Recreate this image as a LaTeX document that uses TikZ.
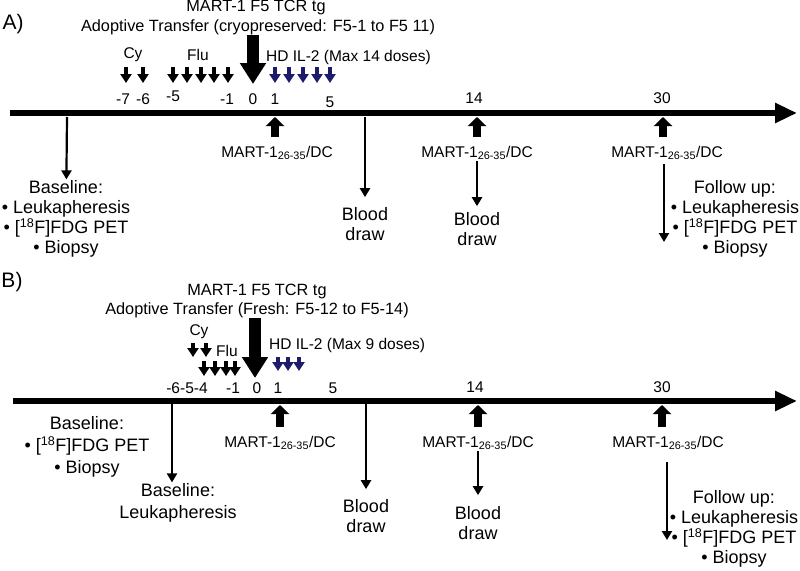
\documentclass[tikz,border=0pt]{standalone}
\usepackage{fontspec}
\setmainfont{Liberation Sans}
\usetikzlibrary{arrows.meta}
\definecolor{ildose}{HTML}{1C1C6B}

\begin{document}
\begin{tikzpicture}[x=1pt,y=-1pt,
	txt/.style={font=\fontsize{18}{20}\selectfont,align=center,inner sep=1pt},
	txtw/.style={font=\fontsize{18}{22}\selectfont,align=center,inner sep=1pt},
	sm/.style={font=\fontsize{15.5}{18}\selectfont,inner sep=1pt},
	ttl/.style={font=\fontsize{16.3}{19}\selectfont,inner sep=1pt},
	timeline/.style={line width=6pt,-{Triangle[length=22pt,width=19pt]}},
	bigarr/.style={line width=12pt,-{Triangle[length=21pt,width=25pt]}},
	dosearr/.style={line width=3.4pt,-{Triangle[length=9pt,width=11pt]}},
	ilarr/.style={dosearr,ildose},
	vacarr/.style={line width=8pt,-{Triangle[length=9pt,width=18pt]}},
	thinarr/.style={line width=2.2pt,-{Triangle[length=9pt,width=10pt]}}]
	\useasboundingbox (0,0) rectangle (800,570);

	% A) cryopreserved cells
	\node[font=\fontsize{21}{24}\selectfont] (lblA) at (13,24) {A)};
	\node[ttl] (trA1) at (256,8) {MART-1 F5 TCR tg};
	\node[ttl] (trA2) at (258,27) {Adoptive Transfer (cryopreserved: F5-1 to F5 11)};
	\node[sm] (cyA) at (133,55) {Cy};
	\node[sm] (fluA) at (198,55) {Flu};
	\node[sm,anchor=west] (ilA) at (265,57) {HD IL-2 (Max 14 doses)};
	\node[sm] (dA7) at (123,99) {-7};
	\node[sm] (dA6) at (143,99) {-6};
	\node[sm] (dA5) at (173,96) {-5};
	\node[sm] (dA1) at (227,99) {-1};
	\node[sm] (dA0) at (253,99) {0};
	\node[sm] (dAp1) at (275,99) {1};
	\node[sm] (dAp5) at (330,102) {5};
	\node[sm] (dA14) at (474,98) {14};
	\node[sm] (dA30) at (662,98) {30};
	\node[sm] (mA1) at (277,153) {MART-1\textsubscript{26-35}/DC};
	\node[sm] (mA2) at (477,153) {MART-1\textsubscript{26-35}/DC};
	\node[sm] (mA3) at (667,153) {MART-1\textsubscript{26-35}/DC};
	\node[txt] (bsA) at (66,219) {Baseline:\\• Leukapheresis\\• [\textsuperscript{18}F]FDG PET\\• Biopsy};
	\node[txt] (bdA1) at (365,224) {Blood\\draw};
	\node[txt] (bdA2) at (477,229) {Blood\\draw};
	\node[txt] (fuA) at (735,219) {Follow up:\\• Leukapheresis\\• [\textsuperscript{18}F]FDG PET\\• Biopsy};

	\coordinate (axA0) at (10,113);
	\coordinate (axA1) at (797,113);
	\coordinate (atA0) at (253,35);
	\coordinate (atA1) at (253,84);
	\coordinate (cA1t) at (126,67); \coordinate (cA1b) at (126,83);
	\coordinate (cA2t) at (143,67); \coordinate (cA2b) at (143,83);
	\coordinate (fA1t) at (173,67); \coordinate (fA1b) at (173,83);
	\coordinate (fA2t) at (187,67); \coordinate (fA2b) at (187,83);
	\coordinate (fA3t) at (201,67); \coordinate (fA3b) at (201,83);
	\coordinate (fA4t) at (214,67); \coordinate (fA4b) at (214,83);
	\coordinate (fA5t) at (228,67); \coordinate (fA5b) at (228,83);
	\coordinate (iA1t) at (275,67); \coordinate (iA1b) at (275,83);
	\coordinate (iA2t) at (289,67); \coordinate (iA2b) at (289,83);
	\coordinate (iA3t) at (303,67); \coordinate (iA3b) at (303,83);
	\coordinate (iA4t) at (317,67); \coordinate (iA4b) at (317,83);
	\coordinate (iA5t) at (330,67); \coordinate (iA5b) at (330,83);
	\coordinate (vA1b) at (275,137); \coordinate (vA1t) at (275,117);
	\coordinate (vA2b) at (477,137); \coordinate (vA2t) at (477,117);
	\coordinate (vA3b) at (663,137); \coordinate (vA3t) at (663,117);
	\coordinate (bsAt) at (67,117);
	\coordinate (bdAt) at (365,117);
	\coordinate (fuAt) at (664,164);
	\coordinate (fuAb) at (664,242);

	\draw [timeline] (axA0) -- (axA1);
	\draw [bigarr] (atA0) -- (atA1);
	\draw [dosearr] (cA1t) -- (cA1b);
	\draw [dosearr] (cA2t) -- (cA2b);
	\draw [dosearr] (fA1t) -- (fA1b);
	\draw [dosearr] (fA2t) -- (fA2b);
	\draw [dosearr] (fA3t) -- (fA3b);
	\draw [dosearr] (fA4t) -- (fA4b);
	\draw [dosearr] (fA5t) -- (fA5b);
	\draw [ilarr] (iA1t) -- (iA1b);
	\draw [ilarr] (iA2t) -- (iA2b);
	\draw [ilarr] (iA3t) -- (iA3b);
	\draw [ilarr] (iA4t) -- (iA4b);
	\draw [ilarr] (iA5t) -- (iA5b);
	\draw [vacarr] (vA1b) -- (vA1t);
	\draw [vacarr] (vA2b) -- (vA2t);
	\draw [vacarr] (vA3b) -- (vA3t);
	\draw [thinarr] (bsAt) -- (bsA);
	\draw [thinarr,shorten >=9pt] (bdAt) -- (bdA1);
	\draw [thinarr,shorten >=5pt] (mA2) -- (bdA2);
	\draw [thinarr] (fuAt) -- (fuAb);

	% B) fresh cells
	\node[font=\fontsize{21}{24}\selectfont] (lblB) at (12,282) {B)};
	\node[ttl] (trB1) at (257,291) {MART-1 F5 TCR tg};
	\node[ttl] (trB2) at (257,310) {Adoptive Transfer (Fresh: F5-12 to F5-14)};
	\node[sm] (cyB) at (199,332) {Cy};
	\node[sm] (fluB) at (227,351) {Flu};
	\node[sm,anchor=west] (ilB) at (268,345) {HD IL-2 (Max 9 doses)};
	\node[sm] (dB654) at (187,388) {-6-5-4};
	\node[sm] (dB1) at (233,388) {-1};
	\node[sm] (dB0) at (257,388) {0};
	\node[sm] (dBp1) at (278,388) {1};
	\node[sm] (dBp5) at (333,388) {5};
	\node[sm] (dB14) at (475,387) {14};
	\node[sm] (dB30) at (662,387) {30};
	\node[sm] (mB1) at (280,443) {MART-1\textsubscript{26-35}/DC};
	\node[sm] (mB2) at (478,443) {MART-1\textsubscript{26-35}/DC};
	\node[sm] (mB3) at (668,443) {MART-1\textsubscript{26-35}/DC};
	\node[txtw] (bsB) at (87,447) {Baseline:\\• [\textsuperscript{18}F]FDG PET\\• Biopsy};
	\node[txtw] (bsB2) at (178,503) {Baseline:\\Leukapheresis};
	\node[txt] (bdB1) at (366,516) {Blood\\draw};
	\node[txt] (bdB2) at (478,523) {Blood\\draw};
	\node[txt] (fuB) at (734,529) {Follow up:\\• Leukapheresis\\• [\textsuperscript{18}F]FDG PET\\• Biopsy};

	\coordinate (axB0) at (13,401);
	\coordinate (axB1) at (797,401);
	\coordinate (atB0) at (255,318);
	\coordinate (atB1) at (255,378);
	\coordinate (cB1t) at (193,343); \coordinate (cB1b) at (193,357);
	\coordinate (cB2t) at (206,343); \coordinate (cB2b) at (206,357);
	\coordinate (fB1t) at (204,361); \coordinate (fB1b) at (204,376);
	\coordinate (fB2t) at (215,361); \coordinate (fB2b) at (215,376);
	\coordinate (fB3t) at (226,361); \coordinate (fB3b) at (226,376);
	\coordinate (fB4t) at (235,361); \coordinate (fB4b) at (235,376);
	\coordinate (iB1t) at (278,357); \coordinate (iB1b) at (278,371);
	\coordinate (iB2t) at (288,357); \coordinate (iB2b) at (288,371);
	\coordinate (iB3t) at (299,357); \coordinate (iB3b) at (299,371);
	\coordinate (vB1b) at (280,427); \coordinate (vB1t) at (280,405);
	\coordinate (vB2b) at (478,427); \coordinate (vB2t) at (478,405);
	\coordinate (vB3b) at (662,427); \coordinate (vB3t) at (662,405);
	\coordinate (bsBt) at (172,404);
	\coordinate (bdBt) at (366,404);
	\coordinate (fuBt) at (667,462);
	\coordinate (fuBb) at (667,540);

	\draw [timeline] (axB0) -- (axB1);
	\draw [bigarr] (atB0) -- (atB1);
	\draw [dosearr] (cB1t) -- (cB1b);
	\draw [dosearr] (cB2t) -- (cB2b);
	\draw [dosearr] (fB1t) -- (fB1b);
	\draw [dosearr] (fB2t) -- (fB2b);
	\draw [dosearr] (fB3t) -- (fB3b);
	\draw [dosearr] (fB4t) -- (fB4b);
	\draw [ilarr] (iB1t) -- (iB1b);
	\draw [ilarr] (iB2t) -- (iB2b);
	\draw [ilarr] (iB3t) -- (iB3b);
	\draw [vacarr] (vB1b) -- (vB1t);
	\draw [vacarr] (vB2b) -- (vB2t);
	\draw [vacarr] (vB3b) -- (vB3t);
	\draw [thinarr] (bsBt) -- (bsBt |- bsB2.north);
	\draw [thinarr,shorten >=9pt] (bdBt) -- (bdB1);
	\draw [thinarr,shorten >=10pt] (mB2) -- (bdB2);
	\draw [thinarr] (fuBt) -- (fuBb);
\end{tikzpicture}
\end{document}
